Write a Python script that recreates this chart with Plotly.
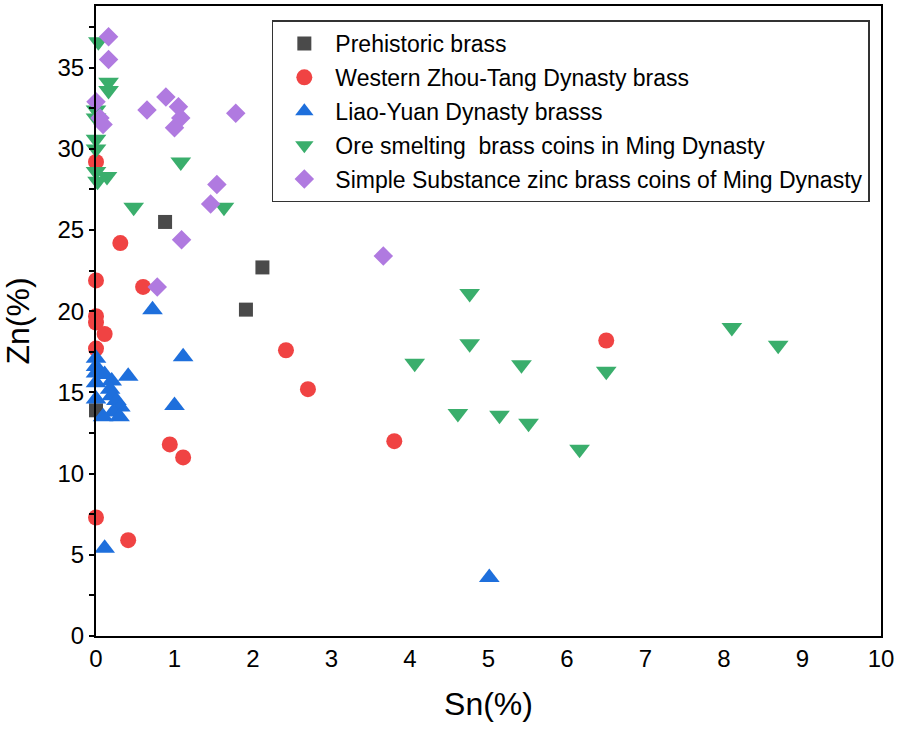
import plotly.graph_objects as go

names = ["Prehistoric brass", "Western Zhou-Tang Dynasty brass", "Liao-Yuan Dynasty brasss",
         "Ore smelting  brass coins in Ming Dynasty",
         "Simple Substance zinc brass coins of Ming Dynasty"]

pre_x = [0.88, 2.12, 1.91, 0.0]
pre_y = [25.5, 22.7, 20.1, 13.9]

wz_x = [0.0, 0.31, 0.0, 0.60, 0.0, 0.0, 0.11, 0.0, 2.42, 2.70, 3.80, 6.50, 0.94, 1.11, 0.0, 0.41]
wz_y = [29.2, 24.2, 21.9, 21.5, 19.7, 19.3, 18.6, 17.7, 17.6, 15.2, 12.0, 18.2, 11.8, 11.0, 7.3, 5.9]

ly_x = [0.72, 1.11, 0.0, 0.0, 0.0, 0.41, 0.11, 0.0, 0.2, 0.18, 0.0, 0.2, 0.26, 0.31, 0.22, 0.09, 0.3, 1.0, 0.11, 5.01]
ly_y = [20.1, 17.2, 17.1, 16.6, 16.2, 16.0, 16.1, 15.6, 15.7, 15.2, 14.6, 14.8, 14.5, 14.1, 13.8, 13.5, 13.5, 14.2, 5.4, 3.6]

ore_x = [0.03, 0.16, 0.16, 0.0, 0.0, 0.0, 0.0, 0.0, 0.14, 0.02, 1.08, 0.48, 1.63, 4.76, 4.76, 4.06, 5.42,
         4.61, 5.14, 5.51, 6.16, 6.50, 8.10, 8.69]
ore_y = [36.6, 34.1, 33.6, 32.4, 31.9, 30.6, 30.0, 28.6, 28.3, 28.0, 29.2, 26.4, 26.4, 21.1, 18.0, 16.8, 16.7,
         13.7, 13.6, 13.1, 11.5, 16.3, 19.0, 17.9]

ss_x = [0.16, 0.16, 0.0, 0.05, 0.09, 0.65, 0.89, 1.05, 1.08, 1.0, 1.78, 1.54, 1.46, 1.09, 3.66, 0.78]
ss_y = [36.9, 35.5, 32.9, 31.9, 31.5, 32.4, 33.2, 32.6, 31.9, 31.3, 32.2, 27.8, 26.6, 24.4, 23.4, 21.5]

series = [
    (pre_x, pre_y, "square", "#4a4a4a", 14),
    (wz_x, wz_y, "circle", "#f04343", 16),
    (ly_x, ly_y, "triangle-up", "#1e6fdc", 18),
    (ore_x, ore_y, "triangle-down", "#3aae6c", 18),
    (ss_x, ss_y, "diamond", "#b07ae0", 15),
]

fig = go.Figure()
for i, (xs, ys, sym, col, sz) in enumerate(series):
    fig.add_trace(go.Scatter(
        x=xs, y=ys, mode="markers", name=names[i], legendgroup=f"g{i}",
        marker=dict(symbol=sym, color=col, size=sz, line=dict(width=0)),
        cliponaxis=False,
    ))

fig.update_layout(
    width=898, height=732,
    margin=dict(l=96, r=16, t=4, b=96),
    paper_bgcolor="white", plot_bgcolor="white",
    font=dict(family="Liberation Sans, Arial, sans-serif", color="black"),
    showlegend=True,
    legend=dict(x=0.224, y=0.977, xanchor="left", yanchor="top",
                bgcolor="white", bordercolor="#333333", borderwidth=1.5,
                font=dict(size=23), tracegroupgap=1, itemwidth=52),
    xaxis=dict(range=[0, 10], dtick=1, showgrid=False, zeroline=False,
               showline=True, linecolor="black", linewidth=2, mirror=True,
               ticks="", tickfont=dict(size=24),
               title=dict(text="Sn(%)", font=dict(size=32), standoff=22)),
    yaxis=dict(range=[0, 38.8], tickvals=[0, 5, 10, 15, 20, 25, 30, 35], showgrid=False, zeroline=False,
               showline=True, linecolor="black", linewidth=2, mirror=True,
               ticks="outside", ticklen=5, tickwidth=1.5, tickcolor="black", tickfont=dict(size=24),
               minor=dict(tickvals=[2.5, 7.5, 12.5, 17.5, 22.5, 27.5, 32.5, 37.5], ticks="outside",
                          ticklen=5, tickwidth=1.5, tickcolor="black"),
               title=dict(text="Zn(%)", font=dict(size=32), standoff=22)),
)

fig.write_html("out.html", config={"displayModeBar": False},
               post_script="document.body.style.margin='0';")
